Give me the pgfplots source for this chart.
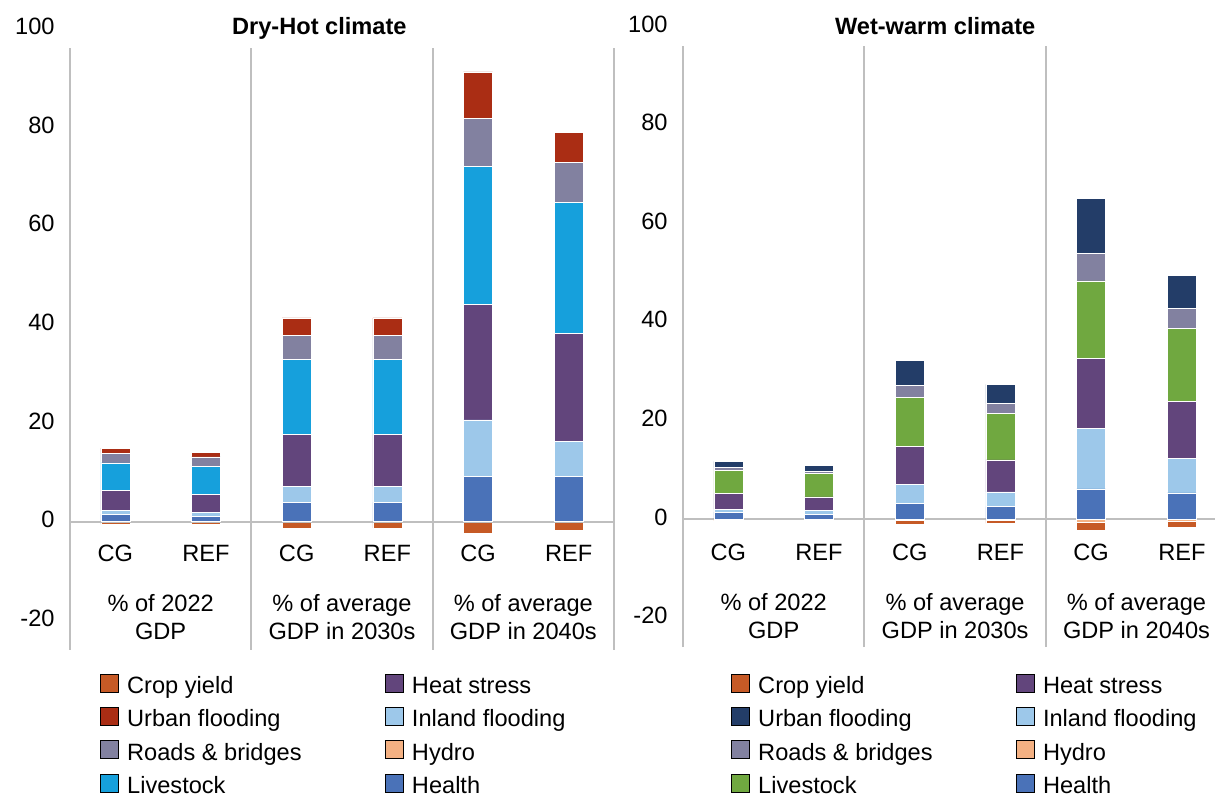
\documentclass[border=0pt]{standalone}
\usepackage{pgfplots}
\pgfplotsset{compat=1.18}
\usepackage{fontspec}
\setmainfont{Liberation Sans}

\definecolor{cropc}{HTML}{C65A26}
\definecolor{urbanr}{HTML}{AA2D14}
\definecolor{urbann}{HTML}{233D68}
\definecolor{roadc}{HTML}{8281A0}
\definecolor{livec}{HTML}{16A0DC}
\definecolor{liveg}{HTML}{70A840}
\definecolor{heatc}{HTML}{62457C}
\definecolor{inlandc}{HTML}{9DC8EA}
\definecolor{hydroc}{HTML}{F4B183}
\definecolor{healthc}{HTML}{4A72B8}
\definecolor{gridc}{HTML}{BFBFBF}

\newcommand{\fs}{\fontsize{11.8}{14}\selectfont}
\newcommand{\ls}{\rule[-4.5pt]{0pt}{16.5pt}}

\pgfplotsset{
  panelgeom/.style={
    scale only axis, height=310.6pt,
    xmin=0, ymin=-26, ymax=100,
    clip=false,
    ybar stacked, bar width=0.32,
  },
  panel/.style={
    panelgeom,
    axis line style={draw=none},
    xtick=\empty,
    ytick={-20,0,20,40,60,80,100},
    yticklabels={-20,0,20,40,60,80,100},
    major tick length=0pt,
    yticklabel style={font=\fs, inner sep=0pt, xshift=-7.5pt, yshift=1pt, anchor=east},
    legend columns=4, transpose legend,
    legend image code/.code={\fill[##1] (0pt,-4.5pt) rectangle (9pt,4.5pt);},
    legend style={draw=none, fill=none, inner sep=0pt, font=\fs,
      anchor=north west, column sep=4pt, row sep=3.2pt,
      nodes={inner sep=0pt}},
    legend cell align=left,
  },
  seg/.style={fill=#1, draw=white, line width=0.3pt, forget plot},
}

\begin{document}
\begin{tikzpicture}
\path[use as bounding box] (0,0) rectangle (608pt,-399.5pt);

% ---------------- Dry-Hot : negative parts ----------------
\begin{axis}[panelgeom, width=272pt, xmax=6, hide axis,
  at={(35pt,-324.85pt)}, anchor=south west]
\addplot[seg=cropc] coordinates {(0.5,-0.6) (1.5,-0.6) (2.5,-1.3) (3.5,-1.3) (4.5,-2.4) (5.5,-1.8)};
\end{axis}

% ---------------- Dry-Hot : positive parts ----------------
\begin{axis}[panel, width=272pt, xmax=6,
  at={(35pt,-324.85pt)}, anchor=south west,
  legend style={at={(0.0551,-0.0312)}}]
\addplot[seg=healthc] coordinates {(0.5,1.5) (1.5,1.1) (2.5,3.9) (3.5,3.9) (4.5,9.1) (5.5,9.1)};
\addplot[seg=inlandc] coordinates {(0.5,0.7) (1.5,0.7) (2.5,3.2) (3.5,3.2) (4.5,11.5) (5.5,7.1)};
\addplot[seg=heatc] coordinates {(0.5,4.1) (1.5,3.7) (2.5,10.6) (3.5,10.6) (4.5,23.4) (5.5,22.0)};
\addplot[seg=livec] coordinates {(0.5,5.6) (1.5,5.7) (2.5,15.2) (3.5,15.2) (4.5,28.1) (5.5,26.6)};
\addplot[seg=roadc] coordinates {(0.5,2.0) (1.5,1.9) (2.5,4.9) (3.5,4.9) (4.5,9.6) (5.5,8.1)};
\addplot[seg=urbanr] coordinates {(0.5,1.0) (1.5,1.0) (2.5,3.5) (3.5,3.5) (4.5,9.5) (5.5,6.1)};
\addlegendimage{fill=cropc}\addlegendentry{\makebox[125pt][l]{\ls Crop yield}}
\addlegendimage{fill=urbanr}\addlegendentry{\makebox[125pt][l]{\ls Urban flooding}}
\addlegendimage{fill=roadc}\addlegendentry{\makebox[125pt][l]{\ls Roads \& bridges}}
\addlegendimage{fill=livec}\addlegendentry{\makebox[125pt][l]{\ls Livestock}}
\addlegendimage{fill=heatc}\addlegendentry{\ls Heat stress}
\addlegendimage{fill=inlandc}\addlegendentry{\ls Inland flooding}
\addlegendimage{fill=hydroc}\addlegendentry{\ls Hydro}
\addlegendimage{fill=healthc}\addlegendentry{\ls Health}
\draw[gridc, line width=1pt] (axis cs:0,-26) -- (axis cs:0,96);
\draw[gridc, line width=1pt] (axis cs:2,-26) -- (axis cs:2,96);
\draw[gridc, line width=1pt] (axis cs:4,-26) -- (axis cs:4,96);
\draw[gridc, line width=1pt] (axis cs:6,-26) -- (axis cs:6,96);
\draw[gridc, line width=1pt] (axis cs:0,0) -- (axis cs:6,0);
\node[font=\fs\bfseries] at (axis cs:2.75,100) {Dry-Hot climate};
\node[font=\fs] at (axis cs:0.5,-6.4) {CG};
\node[font=\fs] at (axis cs:1.5,-6.4) {REF};
\node[font=\fs] at (axis cs:2.5,-6.4) {CG};
\node[font=\fs] at (axis cs:3.5,-6.4) {REF};
\node[font=\fs] at (axis cs:4.5,-6.4) {CG};
\node[font=\fs] at (axis cs:5.5,-6.4) {REF};
\node[font=\fs, align=center] at (axis cs:1,-19.3) {\% of 2022\\GDP};
\node[font=\fs, align=center] at (axis cs:3,-19.3) {\% of average\\GDP in 2030s};
\node[font=\fs, align=center] at (axis cs:5,-19.3) {\% of average\\GDP in 2040s};
\end{axis}

% ---------------- Wet-warm : negative parts ----------------
\begin{axis}[panelgeom, width=266.2pt, xmax=5.87, hide axis,
  at={(341.5pt,-323.6pt)}, anchor=south west]
\addplot[seg=hydroc] coordinates {(0.5,-0.3) (1.5,-0.2) (2.5,-0.2) (3.5,-0.2) (4.5,-0.6) (5.5,-0.5)};
\addplot[seg=cropc] coordinates {(0.5,-0.1) (1.5,-0.1) (2.5,-0.9) (3.5,-0.7) (4.5,-1.7) (5.5,-1.1)};
\end{axis}

% ---------------- Wet-warm : positive parts ----------------
\begin{axis}[panel, width=266.2pt, xmax=5.87,
  at={(341.5pt,-323.6pt)}, anchor=south west,
  legend style={at={(0.0902,-0.0352)}}]
\addplot[seg=healthc] coordinates {(0.5,1.4) (1.5,1.0) (2.5,3.1) (3.5,2.5) (4.5,6.1) (5.5,5.3)};
\addplot[seg=inlandc] coordinates {(0.5,0.6) (1.5,0.7) (2.5,4.0) (3.5,3.0) (4.5,12.3) (5.5,7.0)};
\addplot[seg=heatc] coordinates {(0.5,3.2) (1.5,2.8) (2.5,7.7) (3.5,6.5) (4.5,14.1) (5.5,11.5)};
\addplot[seg=liveg] coordinates {(0.5,4.6) (1.5,4.7) (2.5,9.9) (3.5,9.4) (4.5,15.8) (5.5,14.9)};
\addplot[seg=roadc] coordinates {(0.5,0.7) (1.5,0.5) (2.5,2.4) (3.5,2.0) (4.5,5.6) (5.5,4.0)};
\addplot[seg=urbann] coordinates {(0.5,1.2) (1.5,1.2) (2.5,5.0) (3.5,3.9) (4.5,11.1) (5.5,6.7)};
\addlegendimage{fill=cropc}\addlegendentry{\makebox[125pt][l]{\ls Crop yield}}
\addlegendimage{fill=urbann}\addlegendentry{\makebox[125pt][l]{\ls Urban flooding}}
\addlegendimage{fill=roadc}\addlegendentry{\makebox[125pt][l]{\ls Roads \& bridges}}
\addlegendimage{fill=liveg}\addlegendentry{\makebox[125pt][l]{\ls Livestock}}
\addlegendimage{fill=heatc}\addlegendentry{\ls Heat stress}
\addlegendimage{fill=inlandc}\addlegendentry{\ls Inland flooding}
\addlegendimage{fill=hydroc}\addlegendentry{\ls Hydro}
\addlegendimage{fill=healthc}\addlegendentry{\ls Health}
\draw[gridc, line width=1pt] (axis cs:0,-26) -- (axis cs:0,96);
\draw[gridc, line width=1pt] (axis cs:2,-26) -- (axis cs:2,96);
\draw[gridc, line width=1pt] (axis cs:4,-26) -- (axis cs:4,96);
\draw[gridc, line width=1pt] (axis cs:0,0) -- (axis cs:5.87,0);
\node[font=\fs\bfseries] at (axis cs:2.78,100) {Wet-warm climate};
\node[font=\fs] at (axis cs:0.5,-6.8) {CG};
\node[font=\fs] at (axis cs:1.5,-6.8) {REF};
\node[font=\fs] at (axis cs:2.5,-6.8) {CG};
\node[font=\fs] at (axis cs:3.5,-6.8) {REF};
\node[font=\fs] at (axis cs:4.5,-6.8) {CG};
\node[font=\fs] at (axis cs:5.5,-6.8) {REF};
\node[font=\fs, align=center] at (axis cs:1,-19.7) {\% of 2022\\GDP};
\node[font=\fs, align=center] at (axis cs:3,-19.7) {\% of average\\GDP in 2030s};
\node[font=\fs, align=center] at (axis cs:5,-19.7) {\% of average\\GDP in 2040s};
\end{axis}
\end{tikzpicture}
\end{document}
